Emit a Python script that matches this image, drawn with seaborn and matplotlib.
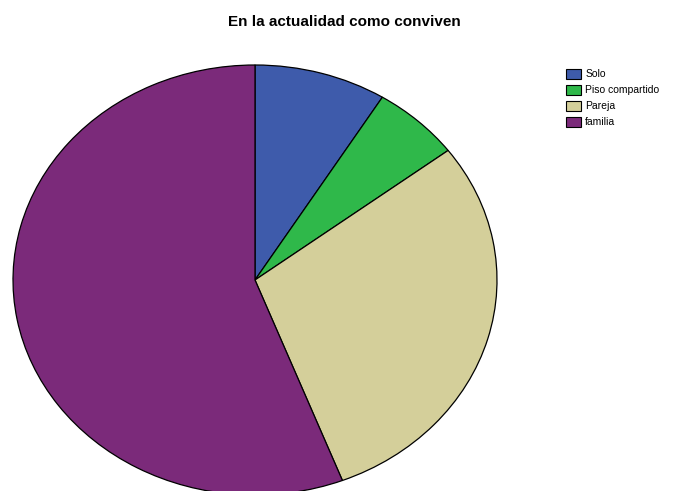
import matplotlib
matplotlib.use("Agg")
import matplotlib.pyplot as plt
from matplotlib.patches import Patch
import seaborn as sns

# Living arrangement counts
categories = ["Solo", "Piso compartido", "Pareja", "familia"]
counts = [3, 2, 10, 19]
colors = ["#3e5bab", "#2fb84a", "#d4cf9a", "#7b2a7a"]
title = "En la actualidad como conviven"

sns.set_theme(style="white")
plt.rcParams["font.family"] = ["Liberation Sans", "DejaVu Sans"]

fig = plt.figure(figsize=(6.8, 4.91), dpi=100)
# Stretched axes so the pie is drawn as an ellipse
ax = fig.add_axes([13 / 680, (491 - 495) / 491, 484 / 680, 430 / 491])
ax.pie(counts, colors=colors, startangle=90, counterclock=False,
       wedgeprops=dict(edgecolor="black", linewidth=0.9))
ax.set_aspect("auto")
ax.set_xlim(-1, 1)
ax.set_ylim(-1, 1)
ax.axis("off")

fig.text(344 / 680, 1 - 22 / 491, title, ha="center", va="center",
         fontsize=11, fontweight="bold", color="black")

handles = [Patch(facecolor=c, edgecolor="black", linewidth=0.8) for c in colors]
fig.legend(handles, categories, loc="upper left",
           bbox_to_anchor=(566 / 680, 1 - 69 / 491), frameon=False,
           fontsize=7.5, handlelength=1.45, handleheight=1.05,
           handletextpad=0.4, labelspacing=0.54, borderpad=0,
           borderaxespad=0, labelcolor="black")

fig.savefig("out.png", dpi=100, facecolor="white")
